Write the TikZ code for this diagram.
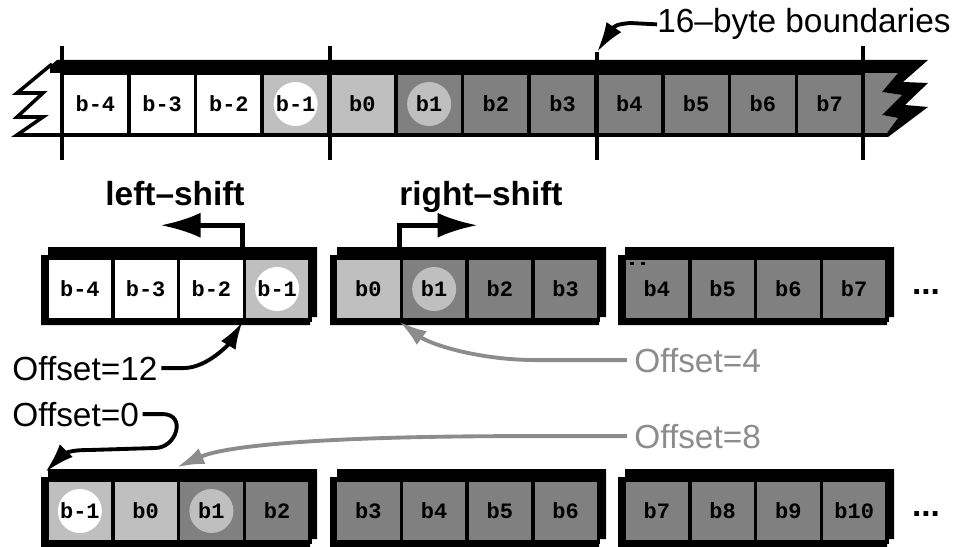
\documentclass[tikz,border=0pt]{standalone}
\usepackage{fontspec}
\setmainfont{Liberation Sans}
\setmonofont{Liberation Mono}
\usetikzlibrary{arrows.meta}

\definecolor{lgray}{gray}{0.75}
\definecolor{dgray}{gray}{0.5}
\definecolor{agray}{gray}{0.55}

\tikzset{
  cell/.style={draw, line width=2pt, minimum width=1.315cm, minimum height=1.24cm,
    inner sep=0pt, font=\fontsize{12.5}{14}\ttfamily\bfseries},
  wcell/.style={cell, fill=white},
  lcell/.style={cell, fill=lgray},
  dcell/.style={cell, fill=dgray},
  ring/.style={path picture={\fill[#1] (path picture bounding box.center) circle (0.44cm);}},
  lcirc/.style={lcell, ring=white},
  dcirc/.style={dcell, ring=lgray},
  txt/.style={font=\fontsize{19}{22}\selectfont, inner sep=0pt},
  shiftlbl/.style={font=\fontsize{19}{22}\selectfont\bfseries, inner sep=0pt},
  conn/.style={line width=2.2pt, -{Latex[length=0.55cm, width=0.34cm]}},
  longconn/.style={line width=2.2pt, -{Latex[length=0.6cm, width=0.36cm]}},
  shiftarr/.style={line width=2.7pt, -{Latex[length=0.8cm, width=0.5cm]}},
}

\begin{document}
\begin{tikzpicture}[x=0.02cm, y=-0.02cm]
    \useasboundingbox (0,0) rectangle (959,547);

    % memory strip
    \foreach \lab/\sty [count=\i] in {b-4/wcell,b-3/wcell,b-2/wcell,b-1/lcirc,b0/lcell,b1/dcirc,b2/dcell,b3/dcell,b4/dcell,b5/dcell,b6/dcell,b7/dcell}
        \node[\sty, minimum width=1.335cm] (top\i) at ({62+66.75*(\i-0.5)},104) {\lab};
    \fill[dgray] (863,73) -- (898,73) -- (882,92) -- (902,95) -- (882,115) -- (898,118) -- (884,137) -- (863,137) -- cycle;
    \draw[line width=2pt] (863,135) -- (887,135);
    \fill (57,60) -- (928,60) -- (903,82) -- (928,83) -- (905,105) -- (928,107) -- (888,137) -- (884,137)
        -- (898,118) -- (882,115) -- (902,95) -- (882,92) -- (898,73) -- (50,73) -- (50,66) -- cycle;
    \draw[line width=2pt] (52,64) -- (17,93) -- (43,93) -- (17,117) -- (43,117) -- (17,135) -- (62,135);
    \foreach \x/\t in {62/46,330/46,597/52,863/46}
        \draw[line width=2pt] (\x,\t) -- (\x,160);
    \coordinate (bndtip) at (597,52);
    \node[txt, anchor=base west] (bnd) at (657,33) {16--byte boundaries};
    \draw[longconn] (bnd.west) -- (630,23) .. controls (622,24) and (618,24) .. (614,27) -- (bndtip);

    % loaded 16-byte blocks
    \foreach \L in {41,330,618}
        \foreach \T in {247,469}
            \fill (\L+7,\T) -- (\L+276,\T) -- (\L+276,\T+70) -- (\L+269,\T+70) -- (\L+269,\T+78)
                -- (\L,\T+78) -- (\L,\T+8) -- (\L+7,\T+8) -- cycle;
    \foreach \lab/\sty [count=\i] in {b-4/wcell,b-3/wcell,b-2/wcell,b-1/lcirc,b0/lcell,b1/dcirc,b2/dcell,b3/dcell,b4/dcell,b5/dcell,b6/dcell,b7/dcell}{
        \pgfmathsetmacro\cx{79.9+288.5*int((\i-1)/4)+65.75*mod(\i-1,4)}
        \node[\sty] (mid\i) at (\cx,289) {\lab};
    }
    \foreach \lab/\sty [count=\i] in {b-1/lcirc,b0/lcell,b1/dcirc,b2/dcell,b3/dcell,b4/dcell,b5/dcell,b6/dcell,b7/dcell,b8/dcell,b9/dcell,b10/dcell}{
        \pgfmathsetmacro\cx{79.9+288.5*int((\i-1)/4)+65.75*mod(\i-1,4)}
        \node[\sty] (bot\i) at (\cx,511) {\lab};
    }
    \fill (630,262) rectangle (634,265);
    \fill (641,262) rectangle (645,265);
    \node[shiftlbl] (more1) at (926,292) {...};
    \node[shiftlbl] (more2) at (926,514) {...};

    % shifts
    \node[shiftlbl, anchor=base] (lsh) at (175,205) {left--shift};
    \node[shiftlbl, anchor=base] (rsh) at (481,205) {right--shift};
    \draw[shiftarr] (mid4.north west) -- ++(0,-31) -- ++(-82,0);
    \draw[shiftarr] (mid6.north west) -- ++(0,-31) -- ++(78,0);

    % offsets
    \node[txt, anchor=base west] (off12) at (12,380) {Offset=12};
    \node[txt, anchor=base west, text=agray] (off4) at (634,372) {Offset=4};
    \node[txt, anchor=base west] (off0) at (12,426) {Offset=0};
    \node[txt, anchor=base west, text=agray] (off8) at (634,448) {Offset=8};
    \draw[conn] ([xshift=2pt]off12.east) -- ++(22,0) .. controls +(25,0) and +(-12,20) .. (mid4.south west);
    \draw[conn, agray] ([xshift=-4pt]off4.west) -- ++(-90,0) .. controls +(-60,0) and +(30,22) .. (mid6.south west);
    \draw[longconn] ([xshift=2pt]off0.east) -- ++(20,0) .. controls +(24,0) and +(22,0) .. (155,448)
        -- (90,450) .. controls (76,450) and (70,451) .. (63,454) -- ([yshift=0.12cm]bot1.north west);
    \draw[conn, agray] ([xshift=-4pt]off8.west) -- ++(-100,0) .. controls +(-200,0) and +(50,-22) .. ([yshift=0.22cm]bot3.north west);
\end{tikzpicture}
\end{document}
